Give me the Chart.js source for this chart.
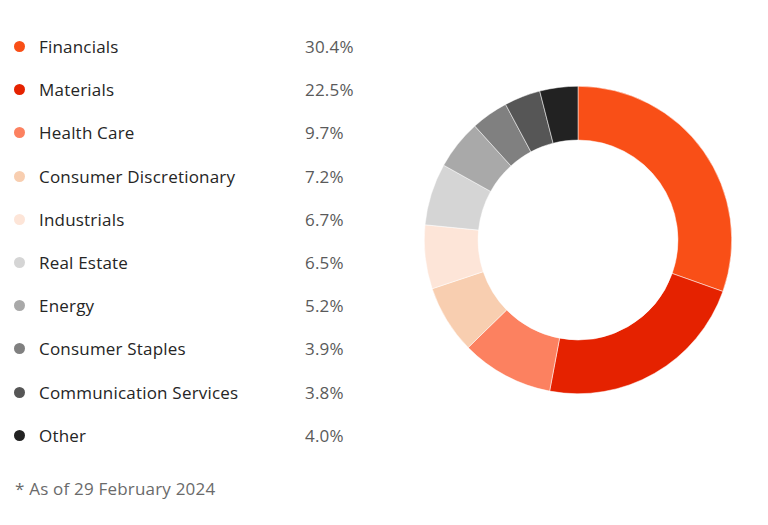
<!DOCTYPE html>
<html>
<head>
<meta charset="utf-8">
<script src="https://cdn.jsdelivr.net/npm/chart.js@4"></script>
<style>
  html, body { margin: 0; padding: 0; background: #fff; }
  body { width: 768px; height: 525px; position: relative; overflow: hidden; font-family: "Open Sans", sans-serif; }
  #legend { position: absolute; left: 0; top: 0; }
  .row { position: absolute; left: 0; height: 24px; width: 400px; font-size: 17px; line-height: 24px; letter-spacing: 0.2px; }
  .dot { position: absolute; left: 14px; top: 6px; width: 11px; height: 11px; border-radius: 50%; }
  .lbl { position: absolute; left: 39px; color: #252525; white-space: nowrap; }
  .val { position: absolute; left: 305px; color: #5a5a5a; }
  #note { position: absolute; left: 15px; top: 477px; font-size: 17px; line-height: 24px; letter-spacing: 0.2px; color: #6a6a6a; }
  #wrap { position: absolute; left: 424px; top: 86px; width: 308px; height: 308px; }
</style>
</head>
<body>
<div id="legend"></div>
<div id="note">* As of 29 February 2024</div>
<div id="wrap"><canvas id="donut"></canvas></div>
<script>
const sectors = ['Financials', 'Materials', 'Health Care', 'Consumer Discretionary', 'Industrials',
  'Real Estate', 'Energy', 'Consumer Staples', 'Communication Services', 'Other'];
const weights = [30.4, 22.5, 9.7, 7.2, 6.7, 6.5, 5.2, 3.9, 3.8, 4.0];
const colours = ['#f94f17', '#e52200', '#fc8160', '#f8ceb0', '#fde5d8',
  '#d5d5d5', '#a9a9a9', '#808080', '#565656', '#222222'];

const legend = document.getElementById('legend');
sectors.forEach((name, i) => {
    const row = document.createElement('div');
    row.className = 'row';
    row.style.top = (35 + i * 43.2) + 'px';
    row.innerHTML = `<span class="dot" style="background:${colours[i]}"></span>` +
        `<span class="lbl">${name}</span><span class="val">${weights[i].toFixed(1)}%</span>`;
    legend.appendChild(row);
});

new Chart(document.getElementById('donut'), {
    type: 'doughnut',
    data: {
        labels: sectors,
        datasets: [{
            data: weights,
            backgroundColor: colours,
            borderColor: '#ffffff',
            borderWidth: 0.5
        }]
    },
    options: {
        responsive: true,
        maintainAspectRatio: false,
        animation: false,
        cutout: '65%',
        events: [],
        plugins: {
            legend: { display: false },
            tooltip: { enabled: false }
        }
    }
});
</script>
</body>
</html>
